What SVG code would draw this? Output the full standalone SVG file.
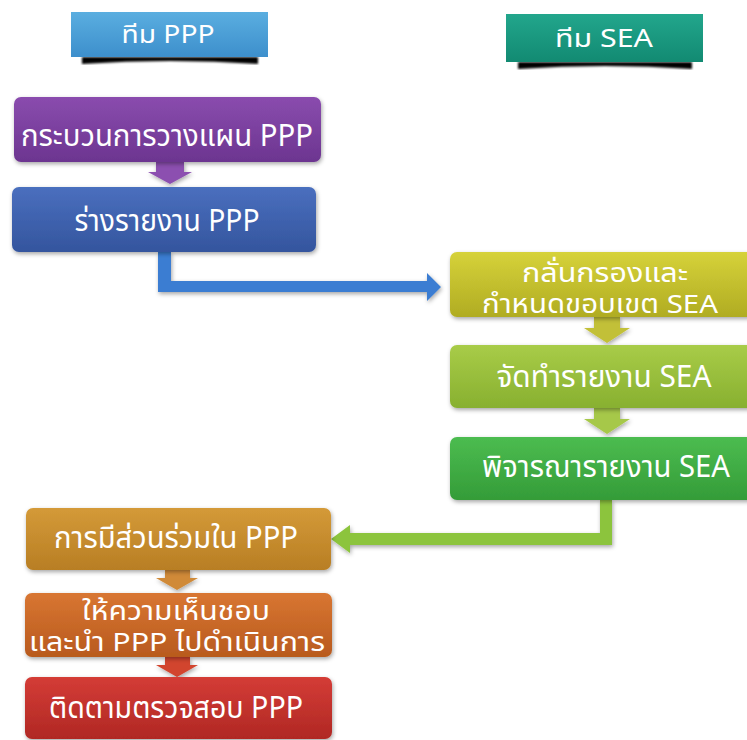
<svg xmlns="http://www.w3.org/2000/svg" width="747" height="740" viewBox="0 0 747 740">
<style>
.t{font-family:"Noto Sans Thai","Noto Sans","DejaVu Sans",sans-serif;fill:#fff;text-anchor:middle;font-size:30px}
.h{font-size:25px}
.s{font-size:26px}
</style>
<defs>
<filter id="sh" x="-10%" y="-10%" width="130%" height="140%"><feDropShadow dx="1" dy="2" stdDeviation="2" flood-color="#000" flood-opacity="0.35"/></filter>
<filter id="bl"><feGaussianBlur stdDeviation="0.8"/></filter>
<linearGradient id="gHP" x1="0" y1="0" x2="0" y2="1"><stop offset="0" stop-color="#5aaee0"/><stop offset="1" stop-color="#3d8fcc"/></linearGradient>
<linearGradient id="gHS" x1="0" y1="0" x2="0" y2="1"><stop offset="0" stop-color="#22a68c"/><stop offset="1" stop-color="#128a72"/></linearGradient>
<linearGradient id="gPu" x1="0" y1="0" x2="0" y2="1"><stop offset="0" stop-color="#8a4cae"/><stop offset="1" stop-color="#6c3590"/></linearGradient>
<linearGradient id="gBl" x1="0" y1="0" x2="0" y2="1"><stop offset="0" stop-color="#4a6fbe"/><stop offset="1" stop-color="#34559e"/></linearGradient>
<linearGradient id="gYe" x1="0" y1="0" x2="0" y2="1"><stop offset="0" stop-color="#d6d23a"/><stop offset="1" stop-color="#b0ac22"/></linearGradient>
<linearGradient id="gLg" x1="0" y1="0" x2="0" y2="1"><stop offset="0" stop-color="#a8cc48"/><stop offset="1" stop-color="#88b030"/></linearGradient>
<linearGradient id="gGr" x1="0" y1="0" x2="0" y2="1"><stop offset="0" stop-color="#4cbc50"/><stop offset="1" stop-color="#349c38"/></linearGradient>
<linearGradient id="gGo" x1="0" y1="0" x2="0" y2="1"><stop offset="0" stop-color="#d49a38"/><stop offset="1" stop-color="#b87e24"/></linearGradient>
<linearGradient id="gOr" x1="0" y1="0" x2="0" y2="1"><stop offset="0" stop-color="#d87632"/><stop offset="1" stop-color="#b85a1e"/></linearGradient>
<linearGradient id="gRe" x1="0" y1="0" x2="0" y2="1"><stop offset="0" stop-color="#d43c36"/><stop offset="1" stop-color="#b02824"/></linearGradient>
</defs>

<g id="header-ppp">
<path d="M82,57 H258 V64 Q170,58 82,64 Z" fill="#000" filter="url(#bl)"/>
<rect x="71" y="12" width="197" height="45" fill="url(#gHP)"/>
<text class="t h" x="168" y="43" textLength="93" lengthAdjust="spacingAndGlyphs">ทีม PPP</text>
</g>
<g id="header-sea">
<path d="M518,62 H692 V69 Q605,63 518,69 Z" fill="#000" filter="url(#bl)"/>
<rect x="506" y="14" width="197" height="48" fill="url(#gHS)"/>
<text class="t h" x="604" y="47" textLength="98" lengthAdjust="spacingAndGlyphs">ทีม SEA</text>
</g>

<g id="connectors" filter="url(#sh)">
<polygon points="156,162 184,162 184,172 192,172 170,184 148,172 156,172" fill="#8c50b0"/>
<polygon points="158,252 171,252 171,281 427,281 427,273 441,287 427,301 427,292 158,292" fill="#3a7dd2"/>
<polygon points="594,317 620,317 620,328 630,328 607,343 584,328 594,328" fill="#c2c038"/>
<polygon points="594,408 620,408 620,419 630,419 607,434 584,419 594,419" fill="#a6c848"/>
<polygon points="600,500 612,500 612,545 350,545 350,553 331,539 350,525 350,533 600,533" fill="#8cc43e"/>
<polygon points="165,570 190,570 190,578 198,578 177,590 156,578 165,578" fill="#d08a38"/>
<polygon points="165,657 190,657 190,665 198,665 177,677 156,665 165,665" fill="#d2442e"/>
</g>

<g id="n-plan">
<rect x="14" y="97" width="307" height="65" rx="7" fill="url(#gPu)" filter="url(#sh)"/>
<text class="t" x="167" y="146" textLength="292" lengthAdjust="spacingAndGlyphs">กระบวนการวางแผน PPP</text>
</g>
<g id="n-draft">
<rect x="12" y="187" width="304" height="65" rx="7" fill="url(#gBl)" filter="url(#sh)"/>
<text class="t" x="167" y="231" textLength="185" lengthAdjust="spacingAndGlyphs">ร่างรายงาน PPP</text>
</g>
<g id="n-screen">
<rect x="450" y="252" width="305" height="65" rx="7" fill="url(#gYe)" filter="url(#sh)"/>
<text class="t s" x="605" y="282" textLength="166" lengthAdjust="spacingAndGlyphs">กลั่นกรองและ</text>
<text class="t s" x="600" y="313" textLength="236" lengthAdjust="spacingAndGlyphs">กำหนดขอบเขต SEA</text>
</g>
<g id="n-prepare">
<rect x="450" y="345" width="305" height="63" rx="7" fill="url(#gLg)" filter="url(#sh)"/>
<text class="t" x="604" y="387" textLength="215" lengthAdjust="spacingAndGlyphs">จัดทำรายงาน SEA</text>
</g>
<g id="n-review">
<rect x="450" y="437" width="305" height="63" rx="7" fill="url(#gGr)" filter="url(#sh)"/>
<text class="t" x="606" y="477" textLength="248" lengthAdjust="spacingAndGlyphs">พิจารณารายงาน SEA</text>
</g>
<g id="n-participate">
<rect x="26" y="508" width="305" height="62" rx="7" fill="url(#gGo)" filter="url(#sh)"/>
<text class="t" x="176" y="548" textLength="244" lengthAdjust="spacingAndGlyphs">การมีส่วนร่วมใน PPP</text>
</g>
<g id="n-approve">
<rect x="25" y="593" width="307" height="64" rx="7" fill="url(#gOr)" filter="url(#sh)"/>
<text class="t s" x="176" y="620" textLength="188" lengthAdjust="spacingAndGlyphs">ให้ความเห็นชอบ</text>
<text class="t s" x="177" y="651" textLength="296" lengthAdjust="spacingAndGlyphs">และนำ PPP ไปดำเนินการ</text>
</g>
<g id="n-monitor">
<rect x="25" y="677" width="307" height="62" rx="7" fill="url(#gRe)" filter="url(#sh)"/>
<text class="t" x="176" y="718" textLength="254" lengthAdjust="spacingAndGlyphs">ติดตามตรวจสอบ PPP</text>
</g>
</svg>
